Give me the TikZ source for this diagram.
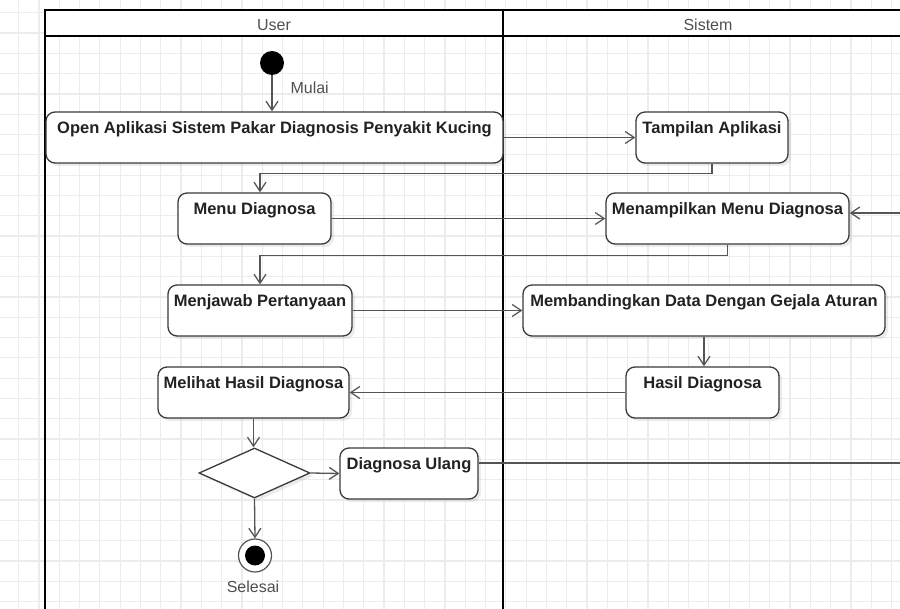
\documentclass[tikz,border=0pt]{standalone}
\usepackage{fontspec}
\setmainfont{Liberation Sans}
\usetikzlibrary{arrows.meta,shapes.geometric,shadows,calc}

\definecolor{gridc}{HTML}{ECECEC}
\definecolor{edgec}{HTML}{555555}
\definecolor{boxc}{HTML}{3A3A3A}
\definecolor{txtc}{HTML}{222222}
\definecolor{lblc}{HTML}{505050}

\begin{document}
\begin{tikzpicture}[x=1pt,y=-1pt,
  act/.style={draw=boxc, fill=white, rounded corners=9pt, line width=1.3pt,
    minimum height=51pt, inner xsep=0pt, inner ysep=5pt,
    text height=17pt, text depth=24pt,
    font=\fontsize{16.5}{19}\selectfont\bfseries, text=txtc,
    drop shadow={shadow xshift=3pt, shadow yshift=-3pt, opacity=0.15}},
  decision/.style={draw=boxc, fill=white, diamond, line width=1.3pt,
    minimum width=111pt, minimum height=50pt, inner sep=0pt,
    drop shadow={shadow xshift=3pt, shadow yshift=-3pt, opacity=0.15}},
  flow/.style={draw=edgec, line width=1.3pt,
    -{Straight Barb[length=9pt,width=12pt]}},
  lane/.style={draw=black, line width=2.4pt},
  lanetitle/.style={font=\fontsize{16}{19}\selectfont, text=lblc, anchor=base},
  note/.style={font=\fontsize{16}{19}\selectfont, text=lblc},
  gridline/.style={draw=gridc, line width=1.2pt}
]
\useasboundingbox (0,0) rectangle (900,609);
\clip (0,0) rectangle (900,609);

% background grid
\fill[white] (0,0) rectangle (900,609);
\foreach \i in {0,...,45} \draw[gridline] ({-1.7+20.3*\i},0) -- ++(0,609);
\foreach \j in {0,...,31} \draw[gridline] (0,{-7.5+20.3*\j}) -- ++(900,0);

% swimlanes
\fill[white] (45,10) rectangle (930,36);
\draw[lane] (930,10) -- (45,10) -- (45,630);
\draw[lane] (45,36) -- (930,36);
\draw[lane] (503,10) -- (503,630);
\node[lanetitle] (userlane) at (274,30.7) {User};
\node[lanetitle] (sistemlane) at (708,30.7) {Sistem};

% activities
\node[circle, fill=black, minimum size=24pt, inner sep=0pt] (start) at (272,63) {};
\node[act, minimum width=457pt] (open) at (274.5,137.5) {Open Aplikasi Sistem Pakar Diagnosis Penyakit Kucing};
\node[act, minimum width=152pt] (tamp) at (712,137.5) {Tampilan Aplikasi};
\node[act, minimum width=153pt] (menu) at (254.5,218.5) {Menu Diagnosa};
\node[act, minimum width=243pt] (menamp) at (727.5,218.5) {Menampilkan Menu Diagnosa};
\node[act, minimum width=184pt] (jawab) at (260,310.5) {Menjawab Pertanyaan};
\node[act, minimum width=362pt] (banding) at (704,310.5) {Membandingkan Data Dengan Gejala Aturan};
\node[act, minimum width=153pt] (hasil) at (702.5,392.5) {Hasil Diagnosa};
\node[act, minimum width=191pt] (lihat) at (253.5,392.5) {Melihat Hasil Diagnosa};
\node[decision] (dec) at (254.5,473) {};
\node[act, minimum width=138pt] (ulang) at (409,473.5) {Diagnosa Ulang};
\node[circle, draw=edgec, fill=white, line width=1.2pt, minimum size=33pt, inner sep=0pt] (end) at (255,555.5) {};
\node[circle, fill=black, minimum size=20pt, inner sep=0pt] (endin) at (end.center) {};
\node[note, anchor=base west] (mulai) at (287,94) {Mulai};
\node[note, anchor=base] (selesai) at (253,592) {Selesai};

% flows
\draw[flow] (start) -- (start |- open.north);
\draw[flow] (open.east) -- (tamp.west);
\draw[flow] (tamp.south) -- ++(0,10) -| ([xshift=5.5pt]menu.north);
\draw[flow] (menu.east) -- (menamp.west);
\draw[flow] (menamp.south) -- ++(0,11) -| (jawab.north);
\draw[flow] (jawab.east) -- (banding.west);
\draw[flow] (banding.south) -- (banding.south |- hasil.north);
\draw[flow] (hasil.west) -- (lihat.east);
\draw[flow] (lihat.south) -- (lihat.south |- dec.north);
\draw[flow] (dec.east) -- (ulang.west);
\draw[flow] (dec.south) -- (end.north);
\coordinate (ret) at (910,213);
\draw[flow] ([yshift=10.5pt]ulang.east) -| (ret) -- ([yshift=5.5pt]menamp.east);
\end{tikzpicture}
\end{document}
